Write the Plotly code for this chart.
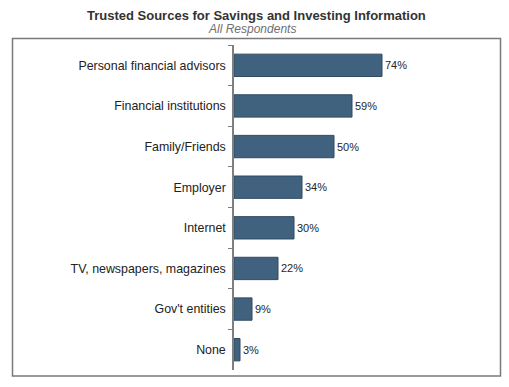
import plotly.graph_objects as go

categories = ["Personal financial advisors", "Financial institutions", "Family/Friends",
              "Employer", "Internet", "TV, newspapers, magazines", "Gov't entities", "None"]
values = [74, 59, 50, 34, 30, 22, 9, 3]

W, H = 509, 387
L, R, T, B = 234, 15, 45, 17
PW, PH = W - L - R, H - T - B

def px_x(x):
    return (x - L) / PW

def px_y(y):
    return (H - B - y) / PH

fig = go.Figure(go.Bar(
    x=values, y=categories, orientation="h",
    marker=dict(color="#41627E", line=dict(color="#2F4B62", width=1)),
    width=0.55,
    text=[f"{v}%" for v in values], textposition="outside",
    textfont=dict(family="Arial, Liberation Sans", size=11, color="#262626"),
    cliponaxis=False,
))

fig.update_layout(
    width=W, height=H,
    margin=dict(l=L, r=R, t=T, b=B),
    paper_bgcolor="white", plot_bgcolor="white",
    showlegend=False,
    font=dict(family="Arial, Liberation Sans", size=12, color="#262626"),
    xaxis=dict(range=[0, PW / 2], visible=False, fixedrange=True),
    yaxis=dict(categoryorder="array", categoryarray=categories, autorange="reversed",
               showline=True, linecolor="#7F7F7F", linewidth=1.5,
               ticks="outside", tickson="boundaries", ticklen=4, tickcolor="#7F7F7F",
               ticklabelstandoff=4,
               tickfont=dict(size=12.4, color="#222222"), showgrid=False),
    shapes=[dict(type="rect", xref="paper", yref="paper",
                 x0=px_x(12.5), x1=px_x(500.5), y0=px_y(376), y1=px_y(38.5),
                 line=dict(color="#7A7A7A", width=1.5), layer="below")],
    annotations=[
        dict(text="<b>Trusted Sources for Savings and Investing Information</b>",
             xref="paper", yref="paper", x=px_x(256), y=px_y(15),
             xanchor="center", yanchor="middle", showarrow=False,
             font=dict(size=13, color="#333333")),
        dict(text="<i>All Respondents</i>",
             xref="paper", yref="paper", x=px_x(252), y=px_y(29),
             xanchor="center", yanchor="middle", showarrow=False,
             font=dict(size=12, color="#707070")),
    ],
)

fig.write_html("out.html", config={"displayModeBar": False},
               post_script="document.body.style.margin='0';")
